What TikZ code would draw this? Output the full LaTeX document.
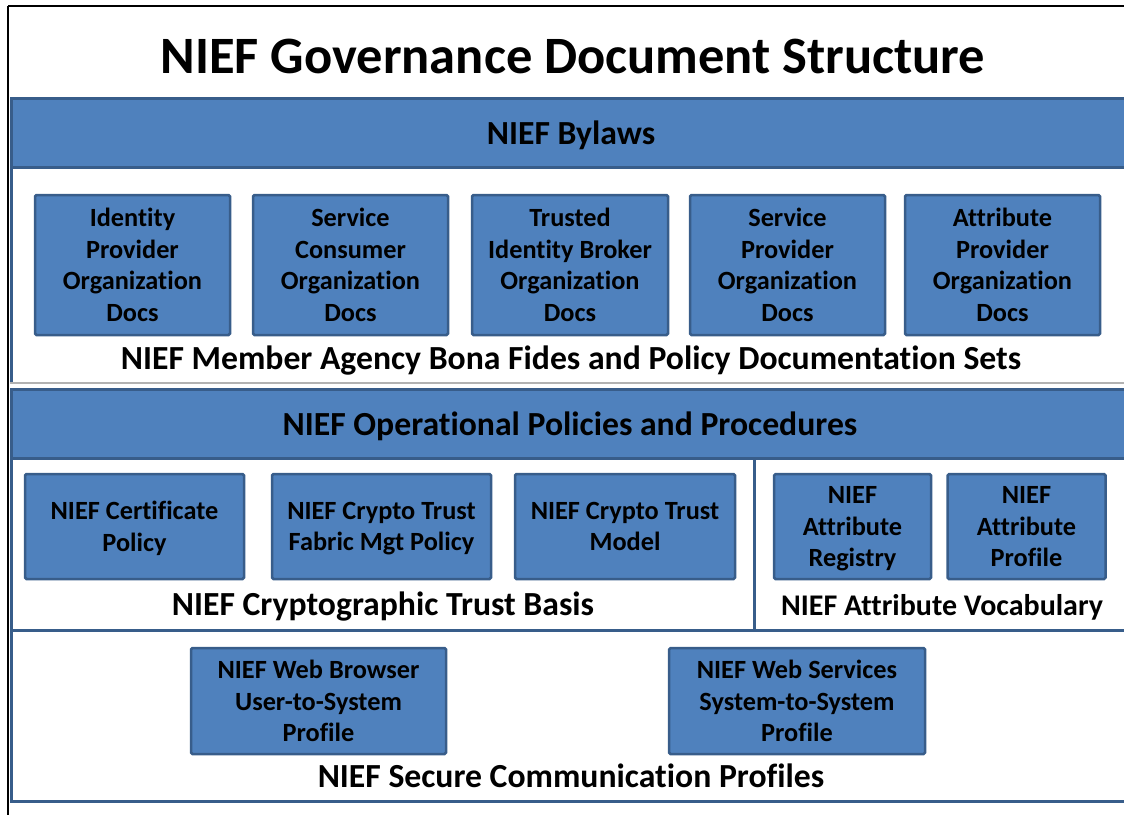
\documentclass[tikz,border=0pt]{standalone}
\usepackage{fontspec}
\setmainfont[Ligatures={NoCommon}]{Carlito}
\usepackage{tikz}
\usetikzlibrary{positioning}

\definecolor{boxblue}{HTML}{4F81BD}
\definecolor{edgeblue}{HTML}{385D8A}

\tikzset{
	doc/.style={draw=edgeblue, fill=boxblue, line width=2.5pt, rounded corners=1.5pt,
		align=center, font=\bfseries\fontsize{26.3}{31.7}\selectfont, inner sep=0pt},
	band/.style={draw=edgeblue, fill=boxblue, line width=3pt},
	section/.style={draw=edgeblue, line width=3pt},
	caption/.style={font=\bfseries\fontsize{33.7}{38}\selectfont, inner sep=0pt}
}

\begin{document}
\begin{tikzpicture}[x=1pt, y=-1pt]
		\useasboundingbox (0,0) rectangle (1124,814);
		\clip (0,0) rectangle (1124,814);
		
		% outer frame and title
		\draw[line width=2pt] (8,6) -- (1130,6);
		\draw[line width=2pt] (8,6) -- (8,820);
		\node[font=\bfseries\fontsize{52.5}{60}\selectfont, inner sep=0pt] (title) at (573,56) {NIEF Governance Document Structure};
		
		% bylaws and member documentation sets
		\draw[band] (11,98) rectangle (1135,167);
		\node[caption] (bylaws) at (571,135) {NIEF Bylaws};
		\draw[section] (11,167) -- (11,383);
		\draw[gray!60, line width=1.5pt] (10,383) -- (1130,383);
		\draw (132.5,265) node[doc, minimum width=195pt, minimum height=140pt] (idp) {Identity\\Provider\\Organization\\Docs}
		(350.5,265) node[doc, minimum width=195pt, minimum height=140pt] (scon) {Service\\Consumer\\Organization\\Docs}
		(570,265) node[doc, minimum width=196pt, minimum height=140pt] (tib) {Trusted\\Identity Broker\\Organization\\Docs}
		(787.5,265) node[doc, minimum width=195pt, minimum height=140pt] (sprov) {Service\\Provider\\Organization\\Docs}
		(1002.5,265) node[doc, minimum width=195pt, minimum height=140pt] (aprov) {Attribute\\Provider\\Organization\\Docs};
		\node[caption] (member) at (571,360.5) {NIEF Member Agency Bona Fides and Policy Documentation Sets};
		
		% operational policies
		\draw[band] (11,389) rectangle (1135,458);
		\node[caption] (ops) at (570,426) {NIEF Operational Policies and Procedures};
		\draw[section] (11,458) rectangle (754,630);
		\draw[section] (754,458) rectangle (1135,630);
		\draw (134.5,526.5) node[doc, minimum width=219pt, minimum height=105pt, text depth=-3pt] (cert) {NIEF Certificate\\Policy}
		(381.5,526.5) node[doc, minimum width=219pt, minimum height=105pt, text depth=-3pt] (fabric) {NIEF Crypto Trust\\Fabric Mgt Policy}
		(625,526.5) node[doc, minimum width=220pt, minimum height=105pt, text depth=-3pt] (model) {NIEF Crypto Trust\\Model}
		(852.5,526.5) node[doc, minimum width=157pt, minimum height=105pt, text depth=-3pt] (registry) {NIEF\\Attribute\\Registry}
		(1026.5,526.5) node[doc, minimum width=158pt, minimum height=105pt, text depth=-3pt] (aprofile) {NIEF\\Attribute\\Profile};
		\node[caption] (crypto) at (383,606.5) {NIEF Cryptographic Trust Basis};
		\node[caption, font=\bfseries\fontsize{30}{34}\selectfont] (vocab) at (942,607.5) {NIEF Attribute Vocabulary};
		
		% secure communication profiles
		\draw[section] (11,630) rectangle (1135,801);
		\draw (318.5,701) node[doc, minimum width=255pt, minimum height=106pt] (browser) {NIEF Web Browser\\User-to-System\\Profile}
		(797,701) node[doc, minimum width=256pt, minimum height=106pt] (wsprof) {NIEF Web Services\\System-to-System\\Profile};
		\node[caption] (secure) at (571,776) {NIEF Secure Communication Profiles};
	\end{tikzpicture}
\end{document}
